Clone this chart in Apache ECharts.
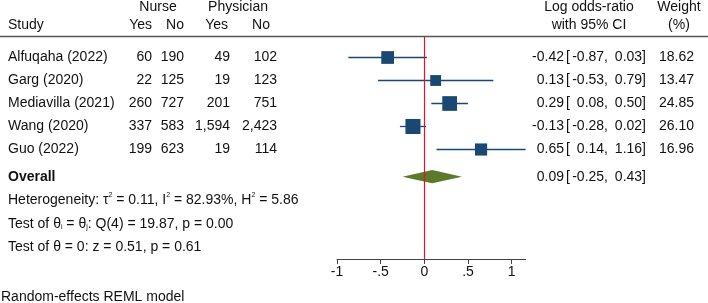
<!DOCTYPE html>
<html>
<head>
<meta charset="utf-8">
<script src="https://cdn.jsdelivr.net/npm/echarts@6/dist/echarts.min.js"></script>
<style>
  html, body { margin: 0; padding: 0; background: #fff; }
  #chart { width: 708px; height: 303px; }
</style>
</head>
<body>
<div id="chart"></div>
<script>
// study data
const studies = ['Alfuqaha (2022)', 'Garg (2020)', 'Mediavilla (2021)', 'Wang (2020)', 'Guo (2022)'];
const nurseYes = [60, 22, 260, 337, 199];
const nurseNo = [190, 125, 727, 583, 623];
const physYes = [49, 19, 201, 1594, 19];
const physNo = [102, 123, 751, 2423, 114];
const estimate = [-0.42, 0.13, 0.29, -0.13, 0.65];
const lower = [-0.87, -0.53, 0.08, -0.28, 0.14];
const upper = [0.03, 0.79, 0.50, 0.02, 1.16];
const weight = [18.62, 13.47, 24.85, 26.10, 16.96];
const overall = [0.09, -0.25, 0.43];
const xTicks = [-1, -0.5, 0, 0.5, 1];

const FONT = '"Liberation Sans", Arial, sans-serif';
const FS = 14;
const TXT = '#111';
const BLUE = '#1b4873';
const GREEN = '#5b7a2a';
const RED = '#e4122f';

const rows = studies.map((s, i) => [i + 1, i]);
const overallRow = 6.2;

const fmt = v => v.toLocaleString('en-US');
const f2 = v => v.toFixed(2);

function txt(x, y, text, align, extra) {
  return {
    type: 'text', x: x, y: y,
    style: Object.assign({
      text: text, font: FS + 'px ' + FONT, fill: TXT,
      align: align || 'left', verticalAlign: 'middle'
    }, extra || {})
  };
}

// CI text columns: estimate, bracket, lower, upper
function ciText(y, e, l, h) {
  return [
    txt(564, y, f2(e), 'right'),
    txt(566, y, '['),
    txt(608, y, f2(l) + ',', 'right'),
    txt(646, y, f2(h) + ']', 'right')
  ];
}

const chart = echarts.init(document.getElementById('chart'), null, { renderer: 'canvas' });

const option = {
  animation: false,
  backgroundColor: '#fff',
  grid: { left: 337, right: 182.4, top: 37, bottom: 44 },
  xAxis: {
    type: 'value', min: -1, max: 1.16, interval: 0.5,
    splitLine: { show: false },
    axisLine: { onZero: false, lineStyle: { color: '#444', width: 1 } },
    axisTick: { length: 5, lineStyle: { color: '#444' } },
    axisLabel: {
      color: TXT, fontFamily: FONT, fontSize: FS, margin: 6,
      showMaxLabel: false,
      formatter: v => xTicks.includes(v) ? String(v).replace('0.', '.') : ''
    }
  },
  yAxis: { type: 'value', inverse: true, min: 0.13, max: 9.78, show: false },
  graphic: [
    txt(158, 7, 'Nurse', 'center'),
    txt(238, 7, 'Physician', 'center'),
    txt(8, 25, 'Study'),
    txt(152, 25, 'Yes', 'right'),
    txt(184, 25, 'No', 'right'),
    txt(228, 25, 'Yes', 'right'),
    txt(270, 25, 'No', 'right'),
    txt(589, 7, 'Log odds-ratio', 'center'),
    txt(589, 25, 'with 95% CI', 'center'),
    txt(679, 7, 'Weight', 'center'),
    txt(679, 25, '(%)', 'center'),
    { type: 'line', shape: { x1: 0, y1: 36.5, x2: 708, y2: 36.5 }, style: { stroke: '#555', lineWidth: 1.3 } },
    {
      type: 'text', x: 8, y: 200,
      style: {
        text: 'Heterogeneity: τ{sup|2} = 0.11, I{sup|2} = 82.93%, H{sup|2} = 5.86',
        font: FS + 'px ' + FONT, fill: TXT, verticalAlign: 'middle',
        rich: { sup: { fontSize: 7, fontFamily: FONT, fill: TXT, verticalAlign: 'top', padding: [0, 0, 9, 0] } }
      }
    },
    {
      type: 'text', x: 8, y: 224,
      style: {
        text: 'Test of θ{sub|i} = θ{sub|j}: Q(4) = 19.87, p = 0.00',
        font: FS + 'px ' + FONT, fill: TXT, verticalAlign: 'middle',
        rich: { sub: { fontSize: 7, fontFamily: FONT, fill: TXT, verticalAlign: 'bottom', padding: [6, 0, 0, 0] } }
      }
    },
    txt(8, 247, 'Test of θ = 0: z = 0.51, p = 0.61'),
    txt(1, 297, 'Random-effects REML model')
  ],
  series: [
    {
      // table text per study
      type: 'custom', clip: false, silent: true,
      data: rows,
      renderItem: (params, api) => {
        const i = api.value(1);
        const y = api.coord([0, api.value(0)])[1];
        return {
          type: 'group',
          children: [
            txt(8, y, studies[i]),
            txt(152, y, fmt(nurseYes[i]), 'right'),
            txt(184, y, fmt(nurseNo[i]), 'right'),
            txt(230, y, fmt(physYes[i]), 'right'),
            txt(277, y, fmt(physNo[i]), 'right'),
            txt(694, y, f2(weight[i]), 'right')
          ].concat(ciText(y, estimate[i], lower[i], upper[i]))
        };
      }
    },
    {
      // overall text
      type: 'custom', clip: false, silent: true,
      data: [[overallRow]],
      renderItem: (params, api) => {
        const y = api.coord([0, api.value(0)])[1];
        return {
          type: 'group',
          children: [
            txt(8, y, 'Overall', 'left', { font: 'bold ' + FS + 'px ' + FONT })
          ].concat(ciText(y, overall[0], overall[1], overall[2]))
        };
      }
    },
    {
      // CI lines and weighted squares
      type: 'custom', silent: true, clip: false,
      data: studies.map((s, i) => [i + 1, estimate[i], lower[i], upper[i], weight[i]]),
      renderItem: (params, api) => {
        const row = api.value(0);
        const c = api.coord([api.value(1), row]);
        const l = api.coord([api.value(2), row]);
        const h = api.coord([api.value(3), row]);
        const yl = Math.round(c[1]) + 0.5;
        const side = 2.95 * Math.sqrt(api.value(4));
        return {
          type: 'group',
          children: [
            { type: 'line', shape: { x1: l[0], y1: yl, x2: h[0], y2: yl }, style: { stroke: BLUE, lineWidth: 1.3 } },
            { type: 'rect', shape: { x: c[0] - side / 2, y: yl - side / 2, width: side, height: side }, style: { fill: BLUE } }
          ]
        };
      },
      markLine: {
        silent: true, symbol: 'none',
        label: { show: false },
        lineStyle: { color: RED, width: 1.2, type: 'solid' },
        data: [{ xAxis: 0 }]
      }
    },
    {
      // overall diamond
      type: 'custom', silent: true,
      data: [[overallRow, overall[0], overall[1], overall[2]]],
      renderItem: (params, api) => {
        const row = api.value(0);
        const c = api.coord([api.value(1), row]);
        const l = api.coord([api.value(2), row]);
        const h = api.coord([api.value(3), row]);
        return {
          type: 'polygon',
          shape: { points: [[l[0], c[1]], [c[0], c[1] - 6.7], [h[0], c[1]], [c[0], c[1] + 6.7]] },
          style: { fill: GREEN }
        };
      }
    }
  ]
};

chart.setOption(option);
</script>
</body>
</html>
